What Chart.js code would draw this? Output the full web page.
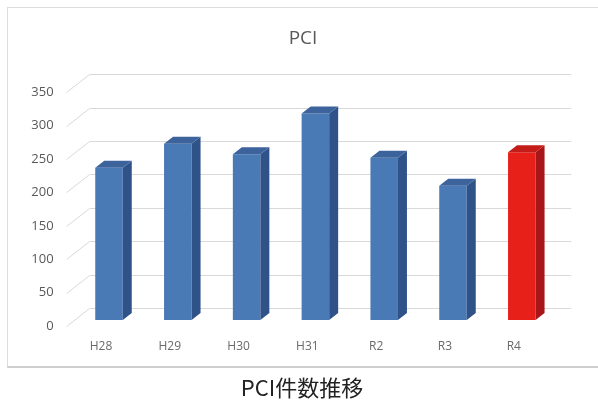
<!DOCTYPE html>
<html>
<head>
<meta charset="utf-8">
<script src="https://cdn.jsdelivr.net/npm/chart.js@4"></script>
<style>
  body { margin: 0; background: #fff; width: 598px; height: 401px; overflow: hidden; position: relative; }
  #frame { position: absolute; left: 7px; top: 7px; width: 600px; height: 361px; box-sizing: border-box;
           border: 1px solid #dcdcdc; border-bottom: 2px solid #cfcfcf; }
  #wrap { position: absolute; left: 0; top: 0; width: 598px; height: 401px; }
  #title { position: absolute; left: 253px; top: 24px; width: 100px; line-height: 26px; text-align: center;
           font-family: "Open Sans", sans-serif; font-size: 19px; color: #595959; }
  #caption { position: absolute; left: 0; top: 371px; width: 604px; line-height: 30px; text-align: center;
             font-family: "Noto Sans CJK JP", "Noto Sans", sans-serif; font-size: 22px; color: #222; }
</style>
</head>
<body>
<div id="frame"></div>
<div id="wrap"><canvas id="pciChart" width="598" height="401"></canvas></div>
<div id="title">PCI</div>
<div id="caption">PCI件数推移</div>
<script>
// Data
const categories = ['H28', 'H29', 'H30', 'H31', 'R2', 'R3', 'R4'];
const counts = [228, 264, 248, 309, 243, 201, 251];
const yTicks = [0, 50, 100, 150, 200, 250, 300, 350];
const currentYear = 'R4';

// 3D look: bar depth, back wall offset, front edge offset
const BAR_DX = 9, BAR_DY = -7;
const WALL_DX = 15, WALL_DY = -12;
const FRONT_DX = -8, FRONT_DY = 6;

const isCurrent = i => categories[i] === currentYear;
const faceColor = i => isCurrent(i) ? '#e8201a' : '#4a7ab5';
const sideColor = i => isCurrent(i) ? '#a8161a' : '#2f5288';
const topColor = i => isCurrent(i) ? '#c41c18' : '#3c639c';

const threeD = {
  id: 'threeD',
  beforeDatasetsDraw(chart) {
    const { ctx, chartArea: a, scales: { y } } = chart;
    ctx.save();
    ctx.strokeStyle = '#d9d9d9';
    ctx.lineWidth = 1;
    yTicks.forEach(v => {
      const py = Math.round(y.getPixelForValue(v)) + 0.5;
      ctx.beginPath();
      ctx.moveTo(a.left + FRONT_DX, py + FRONT_DY);
      ctx.lineTo(a.left + WALL_DX, py + WALL_DY);
      ctx.lineTo(a.right + WALL_DX, py + WALL_DY);
      ctx.stroke();
    });
    ctx.restore();
  },
  afterDatasetsDraw(chart) {
    const { ctx } = chart;
    const meta = chart.getDatasetMeta(0);
    ctx.save();
    meta.data.forEach((bar, i) => {
      const x0 = bar.x - bar.width / 2, x1 = bar.x + bar.width / 2;
      const top = bar.y, base = bar.base;
      // side face
      ctx.fillStyle = sideColor(i);
      ctx.beginPath();
      ctx.moveTo(x1, top);
      ctx.lineTo(x1 + BAR_DX, top + BAR_DY);
      ctx.lineTo(x1 + BAR_DX, base + BAR_DY);
      ctx.lineTo(x1, base);
      ctx.closePath();
      ctx.fill();
      // top face
      ctx.fillStyle = topColor(i);
      ctx.beginPath();
      ctx.moveTo(x0, top);
      ctx.lineTo(x0 + BAR_DX, top + BAR_DY);
      ctx.lineTo(x1 + BAR_DX, top + BAR_DY);
      ctx.lineTo(x1, top);
      ctx.closePath();
      ctx.fill();
    });
    ctx.restore();
  }
};

new Chart(document.getElementById('pciChart'), {
  type: 'bar',
  data: {
    labels: categories,
    datasets: [{
      label: 'PCI',
      data: counts,
      backgroundColor: ctx => faceColor(ctx.dataIndex),
      borderWidth: 0,
      barPercentage: 0.4,
      categoryPercentage: 1
    }]
  },
  options: {
    responsive: false,
    animation: false,
    layout: { padding: { left: 30.6, right: 41.8, top: 86.2, bottom: 41 } },
    plugins: {
      legend: { display: false },
      tooltip: { enabled: false },
      title: { display: false }
    },
    scales: {
      x: {
        grid: { display: false, drawTicks: false },
        border: { display: false },
        ticks: { color: '#6a6a6a', font: { family: '"Open Sans", sans-serif', size: 12 }, padding: 19, labelOffset: -8 },
        afterFit: s => { s.height = 40; }
      },
      y: {
        min: 0,
        max: 350,
        grid: { display: false, drawTicks: false },
        border: { display: false },
        ticks: { stepSize: 50, color: '#595959', font: { family: '"Open Sans", sans-serif', size: 13 }, padding: 21, labelOffset: 6 },
        afterFit: s => { s.width = 44; }
      }
    }
  },
  plugins: [threeD]
});
</script>
</body>
</html>
